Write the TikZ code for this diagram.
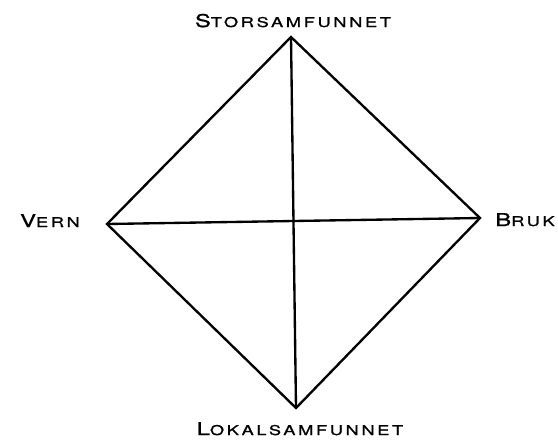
\documentclass[tikz,border=0pt]{standalone}
\usepackage{fontspec}
\setmainfont{TeX Gyre Heros}[FakeStretch=1.35,LetterSpace=20,FakeBold=1.2]
\usepackage{tikz}
\usetikzlibrary{positioning,calc}

% first letter large, the rest as smaller caps
\newcommand{\capword}[2]{{\fontsize{15}{15}\selectfont #1}{\fontsize{11.5}{11.5}\selectfont #2}}

\tikzset{
    edge/.style={line width=2pt, line join=miter},
    vlabel/.style={anchor=base, inner sep=0pt}
}

\begin{document}
\begin{tikzpicture}[x=0.03cm, y=-0.03cm]
    \useasboundingbox (0,0) rectangle (558,441);
    % hjørner
    \coordinate (top) at (291,37);
    \coordinate (left) at (107,224);
    \coordinate (right) at (480,218);
    \coordinate (bottom) at (296,408);
    % ruta og kryss
    \draw[edge] (top) -- (right) -- (bottom) -- (left) -- cycle;
    \draw[edge] (left) -- (right);
    \draw[edge] (top) -- (bottom);
    % tekst
    \node[vlabel] (stor) at (293,27) {\capword{S}{TORSAMFUNNET}};
    \node[vlabel] (lokal) at (300,435) {\capword{L}{OKALSAMFUNNET}};
    \node[vlabel] (vern) at (50,227) {\capword{V}{ERN}};
    \node[vlabel] (bruk) at (525,226) {\capword{B}{RUK}};
\end{tikzpicture}
\end{document}
